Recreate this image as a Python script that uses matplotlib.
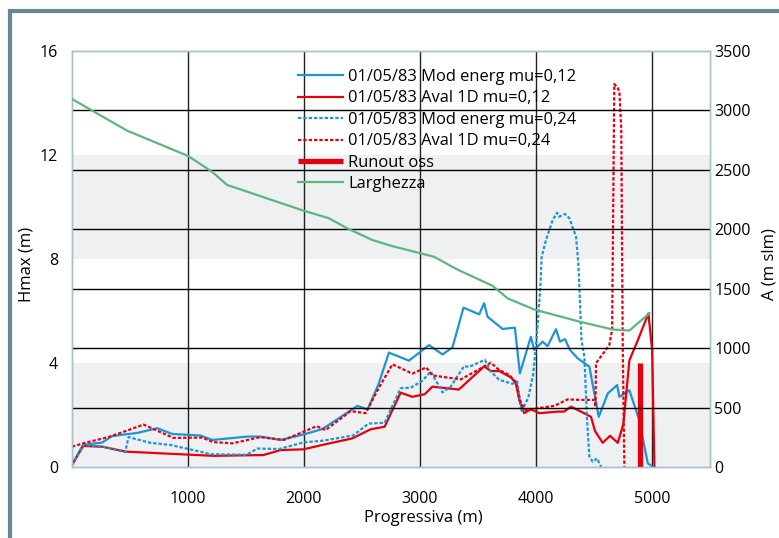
import matplotlib
matplotlib.use("Agg")
import matplotlib.pyplot as plt
from matplotlib.patches import Rectangle

plt.rcParams["font.family"] = ["Open Sans", "DejaVu Sans"]

# Hmax (m) vs progressiva (m)
mod_012_x = [0, 96, 260, 346, 562, 735, 865, 1107, 1210, 1512, 1624, 1797, 1995, 2159, 2461, 2548,
             2643, 2732, 2905, 3078, 3194, 3280, 3375, 3510, 3553, 3582, 3712, 3818, 3861, 3956,
             3985, 4057, 4100, 4172, 4207, 4250, 4293, 4359, 4460, 4541, 4619, 4699, 4719, 4805,
             4885, 4964, 5007]
mod_012_y = [0.08, 0.85, 0.94, 1.19, 1.31, 1.49, 1.27, 1.21, 1.04, 1.17, 1.17, 1.04, 1.25, 1.46,
             2.35, 2.21, 3.19, 4.40, 4.09, 4.69, 4.33, 4.60, 6.13, 5.87, 6.30, 5.78, 5.31, 5.36,
             3.60, 5.01, 4.50, 4.82, 4.65, 5.30, 4.82, 4.92, 4.50, 4.18, 3.86, 1.93, 2.83, 3.15,
             2.70, 2.95, 1.88, 0.14, 0.01]

aval_012_x = [0, 96, 260, 467, 1219, 1650, 1797, 1996, 2159, 2416, 2574, 2695, 2833, 2934, 3041,
              3107, 3335, 3553, 3611, 3683, 3783, 3827, 3855, 3898, 3956, 4028, 4187, 4241, 4302,
              4388, 4474, 4509, 4575, 4638, 4705, 4753, 4805, 4880, 4969, 5001, 5021]
aval_012_y = [0.08, 0.81, 0.78, 0.59, 0.43, 0.46, 0.65, 0.68, 0.85, 1.10, 1.45, 1.55, 2.86, 2.70,
              2.80, 3.09, 2.98, 3.87, 3.69, 3.69, 3.45, 3.22, 2.58, 2.07, 2.22, 2.07, 2.13, 2.13,
              2.32, 2.13, 1.93, 1.38, 0.93, 1.20, 0.93, 1.65, 4.10, 4.90, 5.91, 4.50, 0.01]

mod_024_x = [0, 96, 271, 459, 487, 674, 847, 1106, 1193, 1504, 1599, 1783, 1998, 2160, 2423, 2557,
             2695, 2833, 2920, 3019, 3093, 3194, 3265, 3380, 3423, 3559, 3611, 3683, 3798, 3838,
             3873, 3934, 3976, 4004, 4037, 4049, 4086, 4144, 4181, 4200, 4250, 4287, 4345, 4365,
             4375, 4392, 4417, 4440, 4460, 4489, 4526, 4561]
mod_024_y = [0.08, 0.85, 0.78, 0.57, 1.15, 0.93, 0.85, 0.59, 0.49, 0.47, 0.71, 0.69, 0.95, 1.01,
             1.21, 1.67, 1.70, 3.03, 3.05, 3.31, 3.67, 2.87, 3.09, 3.88, 3.85, 4.12, 3.67, 3.35,
             3.20, 3.28, 2.12, 2.67, 3.58, 4.88, 6.87, 8.09, 8.73, 9.50, 9.78, 9.63, 9.73, 9.57,
             8.86, 7.83, 6.81, 4.88, 4.24, 1.81, 0.40, 0.20, 0.33, 0.01]

aval_024_x = [0, 96, 329, 617, 718, 873, 1124, 1214, 1383, 1624, 1826, 1998, 2108, 2186, 2402,
              2531, 2635, 2762, 2934, 3054, 3107, 3352, 3498, 3611, 3683, 3769, 3827, 3870, 3913,
              4014, 4157, 4273, 4388, 4503, 4513, 4517, 4632, 4656, 4675, 4705, 4719, 4735, 4748,
              4762]
aval_024_y = [0.78, 0.91, 1.17, 1.63, 1.43, 1.12, 1.13, 0.96, 0.91, 1.15, 1.04, 1.36, 1.57, 1.42,
              2.15, 2.07, 2.96, 3.95, 3.59, 3.83, 3.52, 3.37, 3.73, 4.01, 3.73, 3.54, 3.26, 2.45,
              2.19, 2.26, 2.35, 2.60, 2.58, 2.58, 2.32, 3.99, 4.69, 5.27, 14.73, 14.57, 14.43,
              13.00, 4.50, 0.01]

runout_x = [4894, 4894]
runout_y = [0, 4.0]

# Larghezza on the right axis (A, m slm)
largh_x = [0, 473, 1000, 1207, 1337, 1998, 2214, 2373, 2589, 2747, 3121, 3323, 3625, 3755, 3985,
           4371, 4660, 4805, 4978]
largh_a = [3096, 2831, 2617, 2484, 2373, 2156, 2093, 2008, 1910, 1862, 1769, 1661, 1525, 1419,
           1325, 1224, 1157, 1148, 1293]

BLUE = "#1b95d3"
RED = "#e4000f"
GREEN = "#5bb77f"
SPINE = "#a9bfcc"
DOT = (0, (1.5, 0.9))

fig = plt.figure(figsize=(7.79, 5.38), dpi=100)
ax = fig.add_axes([72 / 779, 1 - 467 / 538, 638 / 779, 416 / 538])
ax2 = ax.twinx()

# grey bands and vertical grid
ax.axhspan(0, 4, color="#eef0f2", lw=0, zorder=0)
ax.axhspan(8, 12, color="#eef0f2", lw=0, zorder=0)
for xv in [1000, 2000, 3000, 4000, 5000]:
    ax.axvline(xv, color="#222222", lw=1.0, zorder=1)

h1, = ax.plot(mod_012_x, mod_012_y, color=BLUE, lw=1.6, zorder=3,
              label="01/05/83 Mod energ mu=0,12")
h2, = ax.plot(aval_012_x, aval_012_y, color=RED, lw=1.6, zorder=3,
              label="01/05/83 Aval 1D mu=0,12")
h3, = ax.plot(mod_024_x, mod_024_y, color=BLUE, lw=1.6, ls=DOT, zorder=3,
              label="01/05/83 Mod energ mu=0,24")
h4, = ax.plot(aval_024_x, aval_024_y, color=RED, lw=1.6, ls=DOT, zorder=3,
              label="01/05/83 Aval 1D mu=0,24")
h5, = ax.plot(runout_x, runout_y, color=RED, lw=3.8, solid_capstyle="butt", zorder=4,
              label="Runout oss")

ax.set_xlim(0, 5500)
ax.set_ylim(0, 16)
ax.set_xticks([1000, 2000, 3000, 4000, 5000])
ax.set_yticks([0, 4, 8, 12, 16])
ax.tick_params(axis="y", length=0, pad=10, labelsize=11.5)
ax.tick_params(axis="x", length=0, pad=17, labelsize=11.5)

ax2.set_ylim(0, 3500)
ax2.set_yticks(range(0, 3501, 500))
ax2.tick_params(axis="y", length=0, pad=3, labelsize=11.5)
for yv in range(500, 3001, 500):
    ax2.axhline(yv, color="black", lw=1.0, zorder=1)
h6, = ax2.plot(largh_x, largh_a, color=GREEN, lw=1.6, zorder=3, label="Larghezza")

for a in (ax, ax2):
    for s in a.spines.values():
        s.set_color(SPINE)
        s.set_linewidth(1.0)

ax2.legend(handles=[h1, h2, h3, h4, h5, h6], loc="upper left",
           bbox_to_anchor=(298 / 779, 1 - 69 / 538), bbox_transform=fig.transFigure,
           frameon=False, fontsize=11.9, handlelength=2.75, handletextpad=0.3,
           labelspacing=0.33, borderpad=0, borderaxespad=0)

fig.text(26.5 / 779, 1 - 264 / 538, "Hmax (m)", rotation=90, ha="center", va="center", fontsize=12)
fig.text(770 / 779, 1 - 264 / 538, "A (m slm)", rotation=90, ha="center", va="center", fontsize=12)
fig.text(423 / 779, 1 - 518 / 538, "Progressiva (m)", ha="center", va="center", fontsize=12)

# outer frame
fig.add_artist(Rectangle((10 / 779, -0.1), 1.2, 1 - 11 / 538 + 0.1, transform=fig.transFigure,
                         fill=False, edgecolor="#6c8595", lw=3, clip_on=False))

fig.savefig("out.png", dpi=100)
